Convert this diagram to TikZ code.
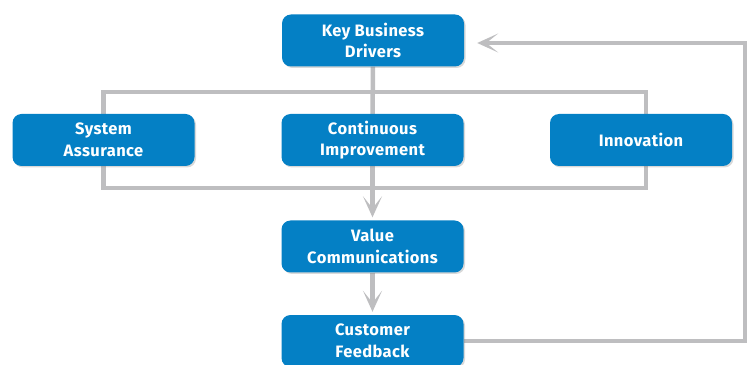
\documentclass[tikz,border=0pt]{standalone}
\usepackage{fontspec}
\setmainfont{Fira Sans}[LetterSpace=2.5]
\usetikzlibrary{arrows.meta,shadows,backgrounds}
\definecolor{boxblue}{RGB}{4,128,197}
\definecolor{linegray}{RGB}{190,190,192}

\begin{document}
\begin{tikzpicture}[x=1pt,y=1pt,
    block/.style={fill=boxblue, rounded corners=9pt, minimum width=182pt,
      minimum height=52pt, text=white, align=center,
      font=\bfseries\fontsize{16.5}{21.5}\selectfont,
      drop shadow={shadow xshift=1.5pt,shadow yshift=-1.5pt,opacity=0.3}},
    link/.style={draw=linegray, line width=4.5pt},
    arrow/.style={link, -{Stealth[length=21pt,width=19pt,inset=12pt]}}]
    \useasboundingbox (0,0) rectangle (749,364);
    \node[block] (key) at (373,323.5) {Key Business\\Drivers};
    \node[block] (sys) at (103.5,224) {System\\Assurance};
    \node[block] (cont) at (372.5,224) {Continuous\\Improvement};
    \node[block] (innov) at (641,224) {Innovation};
    \node[block] (value) at (372.5,117.5) {Value\\Communications};
    \node[block] (cust) at (372.5,23) {Customer\\Feedback};
    \coordinate (tr) at (646,272);
    \coordinate (br) at (646,176);
    \coordinate (rt) at (745,321);
    \begin{scope}[on background layer]
      \draw[link] (sys) |- (tr) -- (tr |- innov);
      \draw[link] (sys) |- (br) -- (br |- innov);
      \draw[link] (key) -- (cont);
      \draw[arrow, shorten >=3pt] (cont) -- (value.north);
      \draw[arrow, shorten >=3pt] (value) -- (cust.north);
      \draw[arrow, shorten >=13pt] (cust) -| (rt) -- (key.east |- rt);
    \end{scope}
  \end{tikzpicture}
\end{document}
